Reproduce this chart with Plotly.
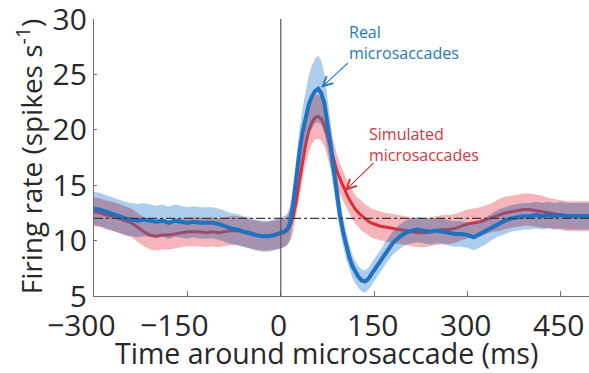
import numpy as np
import plotly.graph_objects as go

# Time axis (ms): coarse before the saccade, finer around the transient, coarse after
times = list(range(-300, 0, 10)) + list(range(0, 155, 5)) + list(range(160, 510, 10))

# Mean firing rate, real microsaccades (spikes/s)
real_mean = [
    12.9, 12.8, 12.6, 12.4, 12.2, 12.0, 11.9, 11.8, 11.9, 11.8,
    11.7, 11.8, 11.6, 11.8, 11.7, 11.6, 11.7, 11.6, 11.6, 11.6,
    11.5, 11.3, 11.1, 11.0, 10.8, 10.7, 10.5, 10.4, 10.4, 10.5,
    10.7, 10.8, 11.0, 11.6, 13.4, 15.8, 18.0, 19.8, 21.2, 22.3,
    23.0, 23.5, 23.7, 23.3, 22.4, 20.7, 18.6, 16.4, 14.2, 12.3,
    10.8, 9.5, 8.5, 7.7, 7.1, 6.7, 6.4, 6.3, 6.5, 6.9, 7.3,
    8.1, 9.0, 9.8, 10.3, 10.7, 10.9, 11.0, 10.9, 10.8, 10.9,
    10.8, 10.7, 10.6, 10.6, 10.5, 10.3, 10.6, 10.9, 11.3, 11.6,
    11.8, 12.0, 12.1, 12.2, 12.2, 12.3, 12.2, 12.3, 12.2, 12.3,
    12.2, 12.2, 12.2, 12.2, 12.2,
]
# Half-width of the shaded band, real microsaccades
real_err = (
    [1.5] * 10 + [1.45] * 5 + [1.4] * 15
    + [1.4, 1.4, 1.4, 1.5, 1.6, 1.8, 2.0, 2.2, 2.4, 2.6, 2.8, 2.9, 3.0, 2.9, 2.7,
       2.4, 2.1, 1.8, 1.6, 1.4, 1.3, 1.2, 1.1, 1.05, 1.0, 1.0, 1.0, 1.0, 1.0, 1.0, 1.0]
    + [1.0, 1.0, 1.05, 1.1, 1.1] + [1.15] * 10 + [1.2] * 20
)

# Mean firing rate, simulated microsaccades (spikes/s)
sim_mean = [
    12.6, 12.5, 12.3, 12.2, 12.0, 11.8, 11.6, 11.2, 10.8, 10.5,
    10.4, 10.5, 10.5, 10.6, 10.7, 10.8, 10.8, 10.8, 10.7, 10.8,
    10.7, 10.8, 10.9, 10.9, 10.8, 10.6, 10.5, 10.4, 10.4, 10.5,
    10.6, 10.7, 10.9, 11.3, 12.2, 13.6, 15.4, 17.2, 18.7, 19.9,
    20.7, 21.1, 21.2, 21.0, 20.4, 19.4, 18.3, 17.2, 16.3, 15.6,
    14.9, 14.3, 13.7, 13.2, 12.8, 12.5, 12.2, 12.0, 11.8, 11.6, 11.5,
    11.3, 11.2, 11.1, 11.0, 10.9, 10.8, 10.7, 10.7, 10.8, 10.9,
    11.0, 11.0, 11.1, 11.3, 11.5, 11.6, 11.7, 11.9, 12.1, 12.3,
    12.5, 12.6, 12.7, 12.8, 12.8, 12.7, 12.6, 12.5, 12.4, 12.3,
    12.2, 12.2, 12.2, 12.2, 12.2,
]
# Half-width of the shaded band, simulated microsaccades
sim_err = (
    [1.3] * 30
    + [1.3, 1.3, 1.3, 1.35, 1.4, 1.5, 1.6, 1.7, 1.8, 1.9, 1.95, 2.0, 2.0, 2.0, 1.9,
       1.8, 1.7, 1.6, 1.5, 1.4, 1.35, 1.3] + [1.3] * 9
    + [1.3] * 19 + [1.45] * 8 + [1.35] * 8
)

baseline_rate = 12.0
x_ticks = [-300, -150, 0, 150, 300, 450]
y_ticks = [5, 10, 15, 20, 25, 30]

t = np.array(times, dtype=float)
rm, re = np.array(real_mean), np.array(real_err)
sm, se = np.array(sim_mean), np.array(sim_err)
r_lo, r_hi = rm - re, rm + re
s_lo, s_hi = sm - se, sm + se
# Region covered by both bands
o_lo = np.maximum(r_lo, s_lo)
o_hi = np.minimum(r_hi, s_hi)
mid = (o_lo + o_hi) / 2
o_lo, o_hi = np.where(o_hi > o_lo, o_lo, mid), np.where(o_hi > o_lo, o_hi, mid)

BLUE = "rgb(30,114,192)"
RED = "rgb(222,45,58)"
INK = "rgb(40,40,40)"


def band(lo, hi, color):
    return go.Scatter(
        x=np.concatenate([t, t[::-1]]),
        y=np.concatenate([hi, lo[::-1]]),
        fill="toself", fillcolor=color, line=dict(width=0),
        mode="lines", hoverinfo="skip", showlegend=False,
    )


fig = go.Figure()
fig.add_trace(band(r_lo, r_hi, "rgb(172,206,236)"))
fig.add_trace(band(s_lo, s_hi, "rgb(246,181,186)"))
fig.add_trace(go.Scatter(x=t, y=sm, mode="lines", line=dict(color=RED, width=3),
                         showlegend=False, name="Simulated"))
fig.add_trace(band(o_lo, o_hi, "rgba(80,106,160,0.48)"))
fig.add_trace(go.Scatter(x=t, y=rm, mode="lines", line=dict(color=BLUE, width=4),
                         showlegend=False, name="Real"))

# Saccade onset and baseline rate
fig.add_shape(type="line", xref="x", yref="y", x0=0, x1=0, y0=5, y1=30,
              line=dict(color="rgb(90,90,90)", width=1.2))
fig.add_shape(type="line", xref="x", yref="y", x0=-300, x1=500,
              y0=baseline_rate, y1=baseline_rate,
              line=dict(color="rgb(60,60,60)", width=1.2, dash="dashdot"))

font = "Open Sans, sans-serif"
fig.add_annotation(x=106, y=30.0, xref="x", yref="y", xanchor="left", yanchor="top",
                   text="Real<br>microsaccades", showarrow=False, align="left",
                   font=dict(family=font, size=16, color="rgb(38,120,192)"))
fig.add_annotation(x=139, y=20.8, xref="x", yref="y", xanchor="left", yanchor="top",
                   text="Simulated<br>microsaccades", showarrow=False, align="left",
                   font=dict(family=font, size=16, color="rgb(215,52,62)"))
fig.add_annotation(x=65, y=23.8, xref="x", yref="y", text="", showarrow=True,
                   ax=28, ay=-26, arrowhead=5, arrowsize=1.6, arrowwidth=1.2,
                   arrowcolor="rgb(38,120,192)")
fig.add_annotation(x=103, y=14.5, xref="x", yref="y", text="", showarrow=True,
                   ax=30, ay=-29, arrowhead=5, arrowsize=1.6, arrowwidth=1.2,
                   arrowcolor="rgb(215,52,62)")

# Time tick labels: negative values are set a little left of their tick
for v in x_ticks:
    fig.add_annotation(x=v, xref="x", y=-0.104, yref="paper", yanchor="middle",
                       text=f"\u2212{abs(v)}" if v < 0 else str(v), showarrow=False,
                       xshift=-13 if v < 0 else -2,
                       font=dict(family=font, size=30, color=INK))

# Axis titles
fig.add_annotation(x=0.47, y=-0.207, xref="paper", yref="paper", yanchor="middle",
                   text="Time around microsaccade (ms)", showarrow=False,
                   font=dict(family=font, size=28.5, color=INK))
fig.add_annotation(x=-0.131, y=0.505, xref="paper", yref="paper", xanchor="center",
                   yanchor="middle",
                   text="Firing rate (spikes s<sup>-1</sup>)", showarrow=False,
                   textangle=-90, font=dict(family=font, size=28, color=INK))

axis_common = dict(
    showgrid=False, zeroline=False, showline=True, linecolor="rgb(110,110,110)",
    linewidth=1.2, ticks="inside", tickcolor="rgb(110,110,110)",
    automargin=False, tickangle=0,
)
fig.update_xaxes(range=[-300, 495], tickvals=x_ticks, showticklabels=False,
                 ticklen=5, **axis_common)
fig.update_yaxes(range=[5, 30], tickvals=y_ticks, ticklen=3,
                 tickfont=dict(family=font, size=30, color=INK),
                 **axis_common)

fig.update_layout(
    width=589, height=373,
    margin=dict(l=94, r=0, t=19, b=77),
    plot_bgcolor="white", paper_bgcolor="white",
    showlegend=False,
)

fig.write_html("out.html")
